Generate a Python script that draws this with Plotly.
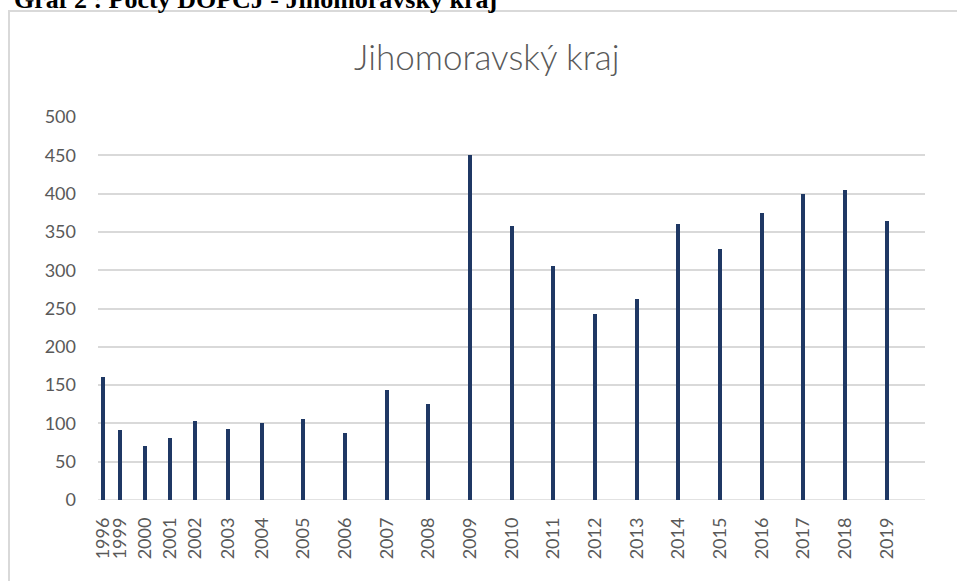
import plotly.graph_objects as go

# Data
years = ["1996", "1999", "2000", "2001", "2002", "2003", "2004", "2005", "2006", "2007", "2008",
         "2009", "2010", "2011", "2012", "2013", "2014", "2015", "2016", "2017", "2018", "2019"]
# position of each category along the (irregular) horizontal axis, in axis units
axis_pos = [0, 2, 5, 8, 11, 15, 19, 24, 29, 34, 39, 44, 49, 54, 59, 64, 69, 74, 79, 84, 89, 94]
values = [160, 92, 70, 81, 103, 93, 100, 106, 87, 143, 125,
          450, 358, 305, 243, 263, 360, 328, 375, 400, 405, 364]
y_ticks = [0, 50, 100, 150, 200, 250, 300, 350, 400, 450, 500]

W, H = 957, 581
L, R, T, B = 98, 32, 117, 81
pw, ph = W - L - R, H - T - B


def px_to_paper(x=None, y=None):
    out = []
    if x is not None:
        out.append((x - L) / pw)
    if y is not None:
        out.append((H - B - y) / ph)
    return out[0] if len(out) == 1 else out


fig = go.Figure()
fig.add_trace(go.Bar(
    x=axis_pos, y=values, width=0.48,
    marker=dict(color="#1f3864", line=dict(width=0)),
    hovertext=years, name="",
))

grey = "#595959"
fig.update_layout(
    width=W, height=H,
    margin=dict(l=L, r=R, t=T, b=B),
    paper_bgcolor="white", plot_bgcolor="white",
    showlegend=False,
    font=dict(family="Lato, Open Sans, sans-serif", color=grey),
    xaxis=dict(
        range=[-0.64, 98.6], tickmode="array", tickvals=axis_pos, ticktext=years,
        tickangle=-90, showgrid=False, zeroline=False, showline=False, ticks="",
        tickfont=dict(size=18, color=grey, family="Lato, sans-serif"),
        ticklabelstandoff=13,
    ),
    yaxis=dict(
        range=[0, 500], tickmode="array", tickvals=y_ticks,
        showgrid=True, gridcolor="#d9d9d9", gridwidth=1.5,
        zeroline=False, showline=False, ticks="",
        tickfont=dict(size=18, color=grey, family="Lato, sans-serif"),
        ticklabelstandoff=21,
    ),
    bargap=0,
)

# baseline gridline at 0
fig.add_shape(type="line", xref="paper", yref="y", x0=0, x1=1, y0=0, y1=0,
              line=dict(color="#d9d9d9", width=1.5), layer="below")

# chart frame
fig.add_shape(type="rect", xref="paper", yref="paper",
              x0=px_to_paper(x=9), x1=px_to_paper(x=975),
              y0=px_to_paper(y=620), y1=px_to_paper(y=11),
              line=dict(color="#d9d9d9", width=2), fillcolor="rgba(0,0,0,0)", layer="below")

# chart title
fig.add_annotation(text="Jihomoravský kraj", xref="paper", yref="paper",
                   x=px_to_paper(x=487), y=px_to_paper(y=56), xanchor="center", yanchor="middle",
                   showarrow=False, font=dict(size=35, color=grey, family="Lato, sans-serif", weight=300))

# document caption (cut off at the top edge)
fig.add_annotation(text="<b>Graf 2 : Počty DOPČJ - Jihomoravský kraj</b>", xref="paper", yref="paper",
                   x=px_to_paper(x=12), y=px_to_paper(y=0), xanchor="left", yanchor="middle",
                   showarrow=False, font=dict(size=26, color="black", family="Liberation Serif, serif"))

fig.write_html("out.html", config={"displayModeBar": False},
               post_script="document.body.style.margin='0';document.body.style.overflow='hidden';")
